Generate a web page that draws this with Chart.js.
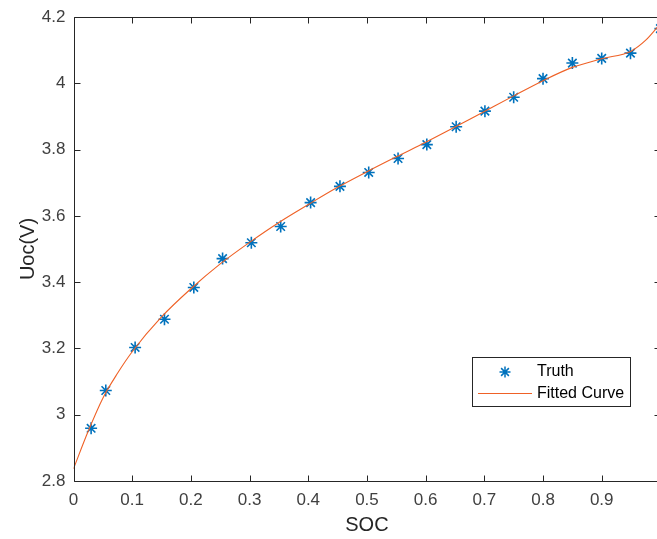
<!DOCTYPE html>
<html>
<head>
<meta charset="utf-8">
<script src="https://cdn.jsdelivr.net/npm/chart.js@4.4.0/dist/chart.umd.min.js"></script>
<style>
  html, body { margin: 0; padding: 0; overflow: hidden; background: #fff; }
  #wrap { width: 668px; height: 539px; }
</style>
</head>
<body>
<!-- canvas a bit wider than the window: the SOC=1 edge sits just off the right side, like the reference -->
<div id="wrap"><canvas id="soc" width="668" height="539"></canvas></div>
<script>
// measured points
const truthSoc = [0.03, 0.055, 0.105, 0.155, 0.205, 0.254, 0.303, 0.353, 0.404, 0.454, 0.503, 0.553, 0.602, 0.652, 0.701, 0.75, 0.8, 0.85, 0.9, 0.949, 1.0];
const truthUoc = [2.959, 3.073, 3.203, 3.288, 3.384, 3.471, 3.519, 3.568, 3.640, 3.689, 3.731, 3.773, 3.815, 3.869, 3.916, 3.958, 4.014, 4.061, 4.075, 4.091, 4.165];

// fitted curve
const fitSoc = [0, 0.025, 0.05, 0.075, 0.1, 0.15, 0.2, 0.25, 0.3, 0.35, 0.4, 0.45, 0.5, 0.55, 0.6, 0.65, 0.7, 0.75, 0.8, 0.85, 0.9, 0.95, 0.975, 1.0];
const fitUoc = [2.837, 2.95, 3.05, 3.125, 3.19, 3.295, 3.38, 3.455, 3.52, 3.58, 3.634, 3.686, 3.733, 3.778, 3.822, 3.868, 3.915, 3.962, 4.008, 4.048, 4.074, 4.097, 4.13, 4.18];

const xTicks = [0, 0.1, 0.2, 0.3, 0.4, 0.5, 0.6, 0.7, 0.8, 0.9, 1];
const yTicks = [2.8, 3, 3.2, 3.4, 3.6, 3.8, 4, 4.2];

const fam = '"Liberation Sans", Arial, sans-serif';
const fmt = v => String(Number(v.toFixed(2)));

const toXY = (xs, ys) => xs.map((x, i) => ({ x: x, y: ys[i] }));

// box + inward ticks + legend, matlab style
const boxPlugin = {
  id: 'matlabBox',
  afterDraw(chart) {
    const c = chart.ctx;
    const a = chart.chartArea;
    const sx = chart.scales.x, sy = chart.scales.y;
    const L = Math.round(a.left) + 0.5, R = Math.round(a.right) + 0.5;
    const T = Math.round(a.top) + 0.5, B = Math.round(a.bottom) + 0.5;
    c.save();
    c.strokeStyle = '#262626';
    c.lineWidth = 1;
    c.beginPath();
    c.rect(L, T, R - L, B - T);
    xTicks.forEach(v => {
      const p = Math.round(sx.getPixelForValue(v)) + 0.5;
      c.moveTo(p, B); c.lineTo(p, B - 6);
      c.moveTo(p, T); c.lineTo(p, T + 6);
    });
    yTicks.forEach(v => {
      const p = Math.round(sy.getPixelForValue(v)) + 0.5;
      c.moveTo(L, p); c.lineTo(L + 6, p);
      c.moveTo(R, p); c.lineTo(R - 6, p);
    });
    c.stroke();

    // legend
    const ds = chart.data.datasets;
    c.fillStyle = '#fff';
    c.fillRect(472.5, 357.5, 158, 49);
    c.strokeStyle = '#262626';
    c.strokeRect(472.5, 357.5, 158, 49);

    c.strokeStyle = ds[1].borderColor;
    c.lineWidth = 1.5;
    Chart.helpers.drawPoint(c, { pointStyle: 'star', radius: 5.5, borderWidth: 1.5, rotation: 0 }, 505, 372);

    c.strokeStyle = ds[0].borderColor;
    c.lineWidth = 1;
    c.beginPath();
    c.moveTo(478, 393.5); c.lineTo(532, 393.5);
    c.stroke();

    c.fillStyle = '#000';
    c.font = '16px ' + fam;
    c.textBaseline = 'middle';
    c.textAlign = 'left';
    c.fillText(ds[1].label, 537, 372);
    c.fillText(ds[0].label, 537, 394);
    c.restore();
  }
};

const ctx = document.getElementById('soc').getContext('2d');
const chart = new Chart(ctx, {
  type: 'line',
  data: {
    datasets: [
      {
        label: 'Fitted Curve',
        data: toXY(fitSoc, fitUoc),
        borderColor: '#EF6126',
        borderWidth: 1.1,
        pointRadius: 0,
        cubicInterpolationMode: 'monotone',
        order: 0,
      },
      {
        label: 'Truth',
        data: toXY(truthSoc, truthUoc),
        showLine: false,
        borderColor: '#0072BD',
        backgroundColor: '#0072BD',
        pointStyle: 'star',
        pointRadius: 6,
        pointBorderWidth: 1.6,
        order: 1,
      },
    ],
  },
  options: {
    responsive: false,
    animation: false,
    devicePixelRatio: 1,
    layout: { padding: { top: 17, right: 1.5, bottom: 0, left: 0 } },
    plugins: { legend: { display: false }, tooltip: { enabled: false } },
    scales: {
      x: {
        type: 'linear',
        min: 0,
        max: 1,
        afterBuildTicks: s => { s.ticks = xTicks.map(v => ({ value: v })); },
        afterFit: s => { s.height = 58; s.paddingLeft = 0; s.paddingRight = 0; },
        grid: { display: false, drawTicks: false },
        border: { display: false },
        ticks: {
          font: { family: fam, size: 17 },
          color: '#404040',
          padding: 9,
          maxRotation: 0,
          autoSkip: false,
          callback: v => fmt(v),
        },
        title: {
          display: true,
          text: 'SOC',
          color: '#262626',
          font: { family: fam, size: 20 },
          padding: { top: 0, bottom: 2 },
        },
      },
      y: {
        type: 'linear',
        min: 2.8,
        max: 4.2,
        afterBuildTicks: s => { s.ticks = yTicks.map(v => ({ value: v })); },
        afterFit: s => { s.width = 73.5; s.paddingTop = 0; s.paddingBottom = 0; },
        grid: { display: false, drawTicks: false },
        border: { display: false },
        ticks: {
          font: { family: fam, size: 17 },
          color: '#404040',
          padding: 8,
          autoSkip: false,
          callback: v => fmt(v),
        },
        title: {
          display: true,
          text: 'Uoc(V)',
          color: '#262626',
          font: { family: fam, size: 20 },
          padding: { top: 16, bottom: 0 },
        },
      },
    },
  },
  plugins: [boxPlugin],
});
</script>
</body>
</html>
